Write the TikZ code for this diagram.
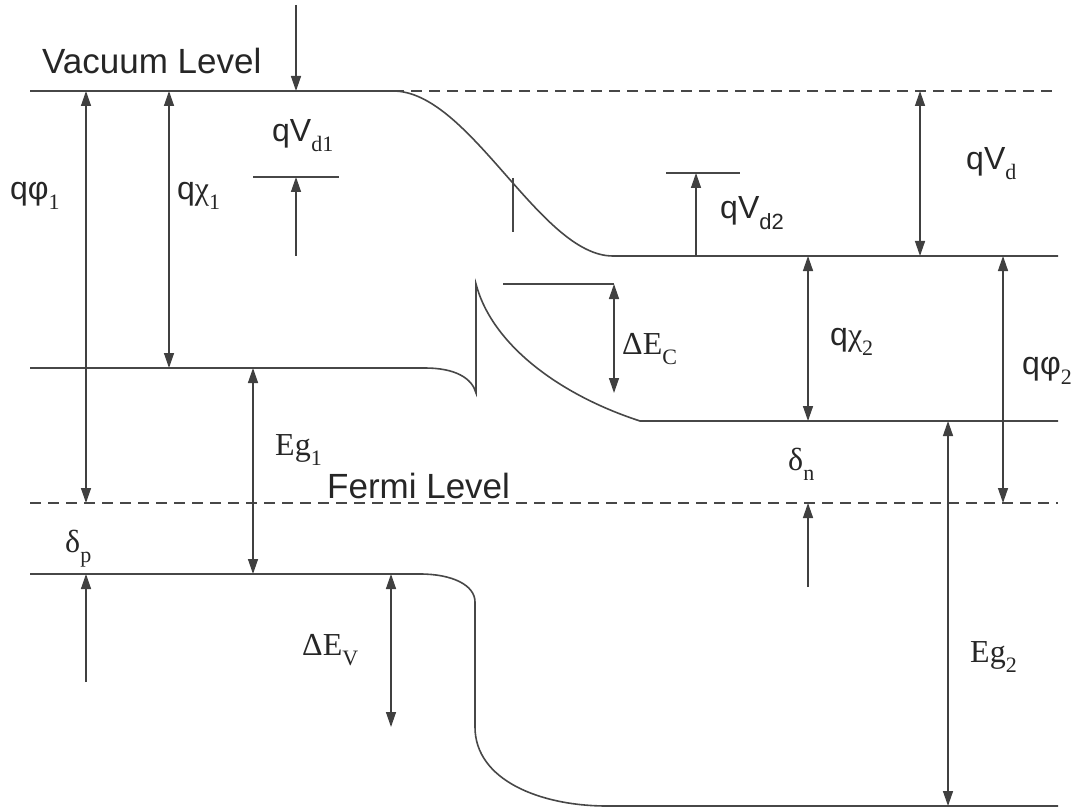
\documentclass[tikz,border=0pt]{standalone}
\usepackage{fontspec}
\setmainfont{Liberation Serif}
\newfontfamily\sansf{Liberation Sans}
\usetikzlibrary{arrows.meta}
\newcommand\lsub[1]{\raisebox{-10pt}{\fontsize{22}{22}\selectfont #1}}
\begin{document}
\begin{tikzpicture}[x=1pt,y=-1pt,
  band/.style={line width=1.6pt, draw=black!72},
  lvl/.style={band, dash pattern=on 11pt off 7pt},
  dimone/.style={line width=1.4pt, draw=black!75, -{Triangle[length=15pt,width=10pt]}},
  dimtwo/.style={line width=1.4pt, draw=black!75, {Triangle[length=15pt,width=10pt]}-{Triangle[length=15pt,width=10pt]}},
  lbl/.style={anchor=base west, inner sep=0pt, text=black!85, font=\fontsize{32}{32}\selectfont},
  big/.style={anchor=base west, inner sep=0pt, text=black!85, font=\sansf\fontsize{35}{35}\selectfont}]
\useasboundingbox (0,0) rectangle (1078,810);
% band edges
\coordinate (vacL) at (30,91);
\coordinate (vacK) at (393,91);
\coordinate (vacR) at (1058,91);
\coordinate (cbtL) at (613,256);
\coordinate (cbtR) at (1058,256);
\coordinate (cbL) at (30,368);
\coordinate (cbK) at (425,368);
\coordinate (spB) at (476,393);
\coordinate (spT) at (476,284);
\coordinate (cb2L) at (640,421);
\coordinate (cb2R) at (1058,421);
\coordinate (feL) at (30,503);
\coordinate (feR) at (1058,503);
\coordinate (vbL) at (30,574);
\coordinate (vbK) at (420,574);
\coordinate (vbA) at (475,602);
\coordinate (vbB) at (475,727);
\coordinate (vb2L) at (607,806);
\coordinate (vb2R) at (1058,806);
\draw[band] (vacL) -- (vacK) .. controls (470,91) and (540,256) .. (cbtL) -- (cbtR);
\draw[lvl] (vacK) -- (vacR);
\draw[band] (cbL) -- (cbK) .. controls (455,368) and (472,378) .. (spB) -- (spT) .. controls (492,345) and (560,395) .. (cb2L) -- (cb2R);
\draw[lvl] (feL) -- (feR);
\draw[band] (vbL) -- (vbK) .. controls (452,574) and (475,585) .. (vbA) -- (vbB) .. controls (475,780) and (540,806) .. (vb2L) -- (vb2R);
% small marks
\coordinate (tkT) at (513,178);
\coordinate (tkB) at (513,232);
\draw[band] (tkT) -- (tkB);
\coordinate (ecL) at (503,284);
\coordinate (ecR) at (614,284);
\coordinate (ecB) at (614,393);
\draw[band] (ecL) -- (ecR);
\coordinate (v1a) at (253,177);
\coordinate (v1b) at (339,177);
\coordinate (v1m) at (296,177);
\coordinate (v1s) at (296,256);
\coordinate (v1t) at (296,5);
\coordinate (v1v) at (296,91);
\draw[band] (v1a) -- (v1b);
\coordinate (v2a) at (666,173);
\coordinate (v2b) at (740,173);
\coordinate (v2m) at (696,173);
\coordinate (v2s) at (696,256);
\draw[band] (v2a) -- (v2b);
% dimension arrows
\coordinate (p1t) at (86,91);   \coordinate (p1b) at (86,503);
\coordinate (c1t) at (169,91);  \coordinate (c1b) at (169,368);
\coordinate (g1t) at (253,368); \coordinate (g1b) at (253,574);
\coordinate (dpt) at (86,574);  \coordinate (dpb) at (86,682);
\coordinate (evt) at (391,574); \coordinate (evb) at (391,727);
\coordinate (c2t) at (808,256); \coordinate (c2b) at (808,421);
\coordinate (dnt) at (808,503); \coordinate (dnb) at (808,587);
\coordinate (vdt) at (920,91);  \coordinate (vdb) at (920,256);
\coordinate (g2t) at (948,421); \coordinate (g2b) at (948,806);
\coordinate (p2t) at (1003,256); \coordinate (p2b) at (1003,503);
\draw[dimone] (v1t) -- (v1v);
\draw[dimone] (v1s) -- (v1m);
\draw[dimone] (v2s) -- (v2m);
\draw[dimtwo] (p1t) -- (p1b);
\draw[dimtwo] (c1t) -- (c1b);
\draw[dimtwo] (g1t) -- (g1b);
\draw[dimone] (dpb) -- (dpt);
\draw[dimtwo] (evt) -- (evb);
\draw[dimtwo] (ecR) -- (ecB);
\draw[dimtwo] (c2t) -- (c2b);
\draw[dimone] (dnb) -- (dnt);
\draw[dimtwo] (vdt) -- (vdb);
\draw[dimtwo] (g2t) -- (g2b);
\draw[dimtwo] (p2t) -- (p2b);
% labels
\node[big] (vac) at (42,74) {Vacuum Level};
\node[big] (fermi) at (327,498) {Fermi Level};
\node[lbl] (lphi1) at (10,200) {{\sansf qφ}\lsub{1}};
\node[lbl] (lchi1) at (177,200) {{\sansf q}χ\lsub{1}};
\node[lbl] (lvd1) at (272,142) {{\sansf qV}\lsub{d1}};
\node[lbl] (lvd2) at (720,219) {{\sansf qV\lsub{d2}}};
\node[lbl] (lvd) at (966,170) {{\sansf qV}\lsub{d}};
\node[lbl] (lec) at (622,354) {ΔE\lsub{C}};
\node[lbl] (lchi2) at (830,345) {{\sansf q}χ\lsub{2}};
\node[lbl] (lphi2) at (1022,374) {{\sansf qφ}\lsub{2}};
\node[lbl] (leg1) at (275,455) {Eg\lsub{1}};
\node[lbl] (ldn) at (788,470) {δ\lsub{n}};
\node[lbl] (ldp) at (65,552) {δ\lsub{p}};
\node[lbl] (lev) at (302,655) {ΔE\lsub{V}};
\node[lbl] (leg2) at (970,662) {Eg\lsub{2}};
\end{tikzpicture}
\end{document}
